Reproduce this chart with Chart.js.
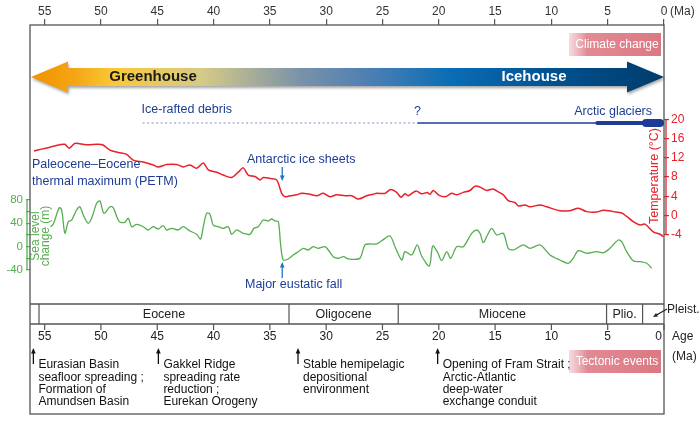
<!DOCTYPE html>
<html lang="en">
<head>
<meta charset="UTF-8">
<title>Arctic climate and tectonic events</title>
<style>
  html, body { margin: 0; padding: 0; background: #fff; }
  #wrap { width: 700px; height: 422px; }
</style>
</head>
<body>
<div id="wrap"><canvas id="chart"></canvas></div>
<script src="https://cdn.jsdelivr.net/npm/chart.js@4.4.1/dist/chart.umd.min.js"></script>
<script>
// temperature curve: age (Ma) and temperature (°C)
const tempAge = [55.95, 55.27, 54.53, 53.64, 53.20, 52.82, 52.31, 51.87, 51.13, 50.38, 49.85, 49.20, 48.46, 47.72, 47.13,
  46.24, 45.36, 44.91, 44.17, 43.28, 42.69, 42.10, 41.50, 40.91, 40.47, 39.72, 39.14, 38.39, 37.81, 37.36, 36.92, 36.32,
  35.88, 35.59, 34.99, 34.40, 33.95, 33.66, 33.21, 32.62, 32.18, 31.44, 30.84, 30.26, 29.66, 29.07, 28.33, 27.74, 27.15,
  26.40, 25.82, 25.52, 24.78, 24.27, 23.74, 23.36, 23.00, 22.71, 22.02, 21.52, 21.02, 20.78, 20.49, 20.04, 19.45, 18.85,
  18.41, 17.82, 17.23, 16.78, 16.34, 15.75, 15.21, 14.72, 14.27, 13.83, 13.23, 12.94, 12.34, 11.90, 11.01, 10.42, 9.24,
  8.35, 7.61, 6.86, 5.98, 5.39, 4.50, 3.76, 3.31, 2.73, 2.13, 1.69, 0.95, 0.36, 0.06]
const tempVal = [13.4, 13.8, 14.2, 14.7, 14.8, 14.0, 15.0, 14.9, 14.7, 14.8, 14.7, 13.6, 13.1, 12.7, 11.5,
  11.1, 10.5, 10.1, 10.6, 10.6, 10.1, 10.5, 9.8, 10.9, 9.5, 9.0, 8.4, 7.9, 9.0, 9.9, 8.4, 8.1,
  7.4, 7.9, 7.7, 7.4, 4.6, 3.9, 4.1, 4.3, 4.6, 4.4, 4.1, 4.6, 3.9, 4.3, 4.1, 4.1, 3.4,
  4.1, 4.4, 4.6, 4.6, 5.4, 4.8, 3.8, 4.5, 4.1, 5.1, 4.5, 4.8, 4.4, 5.2, 4.3, 3.9, 4.6,
  4.3, 4.8, 5.2, 6.1, 5.9, 5.2, 5.5, 4.9, 4.3, 3.1, 2.7, 2.0, 2.2, 1.8, 2.2, 1.8, 1.0,
  1.0, 1.5, 0.8, 0.7, 1.1, 0.8, 0.5, -0.2, -1.3, -2.0, -1.8, -3.4, -3.9, -4.4]

// sea level curve: age (Ma) and sea level change (m)
const seaAge = [54.47, 54.24, 53.70, 53.49, 53.20, 52.90, 52.60, 52.16, 51.87, 51.57, 51.13, 50.83, 50.38, 50.09, 49.73,
  49.20, 48.91, 48.37, 47.87, 47.57, 47.27, 46.83, 46.24, 45.80, 45.36, 44.91, 44.47, 44.17, 43.72, 43.13, 42.69, 42.10,
  41.50, 41.15, 40.91, 40.61, 40.32, 40.03, 39.58, 39.14, 38.69, 38.39, 37.95, 37.36, 36.77, 36.41, 36.03, 35.59, 35.14,
  34.84, 34.55, 34.25, 34.04, 33.81, 33.37, 32.92, 32.48, 32.03, 31.59, 31.15, 30.70, 30.11, 29.81, 29.37, 28.93, 28.48,
  28.04, 27.59, 27.00, 26.55, 26.11, 25.52, 25.07, 24.33, 23.89, 23.29, 23.00, 22.41, 21.91, 21.52, 20.84, 20.54, 20.13,
  19.74, 19.30, 18.94, 18.41, 17.82, 17.08, 16.63, 16.34, 16.05, 15.75, 15.30, 14.86, 14.27, 13.83, 13.38, 12.50, 11.90,
  11.01, 10.12, 9.24, 8.50, 8.06, 7.61, 6.86, 5.98, 5.39, 4.80, 4.06, 3.76, 3.31, 2.73, 2.13, 1.54, 1.09]
const seaVal = [34.2, 38.3, 66.8, 62.9, 22.9, 42.8, 45.7, 62.9, 68.5, 54.3, 40.1, 48.6, 74.3, 78.3, 57.2,
  68.5, 66.8, 42.8, 41.8, 48.6, 34.2, 38.3, 34.2, 28.6, 34.2, 30.3, 35.9, 28.6, 31.5, 28.6, 34.2, 26.9,
  21.2, 13.1, 34.2, 57.2, 55.5, 37.1, 34.2, 31.5, 34.2, 21.2, 28.6, 22.9, 21.2, 31.5, 34.2, 45.7, 44.0,
  47.4, 44.0, 42.8, 2.9, -22.9, -21.1, -14.3, -8.6, -2.8, -5.7, -0.1, -2.8, -0.1, -5.7, -17.2, -19.9, -17.2,
  -21.1, -21.7, -19.9, 2.9, 4.6, 4.6, 10.2, 18.3, -0.1, -22.9, -8.6, -14.3, 2.9, -16.0, -33.1, 1.1, -8.6,
  -24.1, -8.6, -19.9, -0.1, -0.1, 22.9, 28.6, 22.9, 6.8, 17.1, 31.5, 20.0, 22.9, -2.8, -5.7, 2.9, -2.8,
  2.9, -14.3, -22.9, -28.5, -19.9, -6.9, -11.4, -8.6, -10.3, -2.8, 11.4, 8.5, -8.6, -24.1, -25.8, -28.5, -37.1]

// tick labels
const ageTicks = [55, 50, 45, 40, 35, 30, 25, 20, 15, 10, 5, 0]
const tempTicks = [-4, 0, 4, 8, 12, 16, 20]
const seaTicks = [-40, -20, 0, 20, 40, 60, 80]

// epochs (boundaries in Ma, names of the cells between them)
const epochBounds = [55.5, 33.3, 23.6, 5.1, 1.9]
const epochNames = ['Eocene', 'Oligocene', 'Miocene', 'Plio.']

// ice record (Ma)
const iceDebrisFrom = 46.3
const iceQuery = 21.9
const glacierThick = 6.1
const glacierThicker = 1.95
const iceAntarctic = 33.9

// tectonic events
const eventAge = [56, 44.9, 32.5, 20.1]
const eventText = [
  ['Eurasian Basin', 'seafloor spreading ;', 'Formation of', 'Amundsen Basin'],
  ['Gakkel Ridge', 'spreading rate', 'reduction ;', 'Eurekan Orogeny'],
  ['Stable hemipelagic', 'depositional', 'environment'],
  ['Opening of Fram Strait ;', 'Arctic-Atlantic', 'deep-water', 'exchange conduit']
]

const F = "'Liberation Sans', Arial, sans-serif"
const RED = '#e8202a'
const GREEN = '#55ad4f'
const NAVY = '#1e3c96'
const BLUE = '#1a78c2'
Chart.defaults.font.family = F

function text(ctx, s, x, y, size, color, align, bold) {
    ctx.font = (bold ? 'bold ' : '') + size + 'px ' + F
    ctx.fillStyle = color
    ctx.textAlign = align || 'left'
    ctx.textBaseline = 'middle'
    ctx.fillText(s, x, y)
}

function arrow(ctx, x1, y1, x2, y2, color, head) {
    const ang = Math.atan2(y2 - y1, x2 - x1)
    ctx.strokeStyle = color
    ctx.fillStyle = color
    ctx.lineWidth = 1.3
    ctx.beginPath()
    ctx.moveTo(x1, y1)
    ctx.lineTo(x2 - Math.cos(ang) * head * 0.8, y2 - Math.sin(ang) * head * 0.8)
    ctx.stroke()
    ctx.beginPath()
    ctx.moveTo(x2, y2)
    ctx.lineTo(x2 - head * Math.cos(ang - 0.4), y2 - head * Math.sin(ang - 0.4))
    ctx.lineTo(x2 - head * Math.cos(ang + 0.4), y2 - head * Math.sin(ang + 0.4))
    ctx.closePath()
    ctx.fill()
}

function pinkBox(ctx, x0, y0, w, h, label) {
    const g = ctx.createLinearGradient(x0, 0, x0 + w, 0)
    g.addColorStop(0, 'rgba(226,140,150,0.3)')
    g.addColorStop(0.2, 'rgba(222,125,135,0.9)')
    g.addColorStop(1, 'rgb(220,120,130)')
    ctx.fillStyle = g
    ctx.fillRect(x0, y0, w, h)
    text(ctx, label, x0 + w / 2 + 2, y0 + h / 2 + 0.5, 12, '#fff', 'center')
}

const decorations = {
    id: 'decorations',
    afterDraw(chart) {
        const ctx = chart.ctx
        const a = chart.chartArea
        const X = v => chart.scales.x.getPixelForValue(v)
        const yT = v => chart.scales.yT.getPixelForValue(v)
        const yS = v => chart.scales.yS.getPixelForValue(v)
        const L = a.left, R = a.right
        const rowTop = a.bottom, rowBot = a.bottom + 20, boxBot = a.bottom + 110
        ctx.save()

        // frame
        ctx.strokeStyle = '#555'
        ctx.lineWidth = 1.3
        ctx.strokeRect(L, a.top, R - L, boxBot - a.top)
        ctx.beginPath()
        ctx.moveTo(L, rowTop); ctx.lineTo(R, rowTop)
        ctx.moveTo(L, rowBot); ctx.lineTo(R, rowBot)
        ctx.stroke()
        text(ctx, '(Ma)', R + 6, 12, 12, '#333', 'left')

        // greenhouse / icehouse arrow
        const ay = 77, sh = 9, hh = 15.5, hl = 37
        const g = ctx.createLinearGradient(L, 0, R, 0)
        g.addColorStop(0, 'rgb(242,145,0)')
        g.addColorStop(0.07, 'rgb(244,165,20)')
        g.addColorStop(0.13, 'rgb(249,200,55)')
        g.addColorStop(0.27, 'rgb(214,202,135)')
        g.addColorStop(0.43, 'rgb(120,145,170)')
        g.addColorStop(0.55, 'rgb(70,125,180)')
        g.addColorStop(0.66, 'rgb(10,110,182)')
        g.addColorStop(0.82, 'rgb(0,82,145)')
        g.addColorStop(1, 'rgb(0,60,108)')
        ctx.save()
        ctx.shadowColor = 'rgba(0,0,0,0.35)'
        ctx.shadowBlur = 3
        ctx.shadowOffsetX = 1
        ctx.shadowOffsetY = 2
        ctx.beginPath()
        ctx.moveTo(L + 1, ay)
        ctx.lineTo(L + 1 + hl, ay - hh)
        ctx.lineTo(L + 1 + hl, ay - sh)
        ctx.lineTo(R - hl, ay - sh)
        ctx.lineTo(R - hl, ay - hh)
        ctx.lineTo(R, ay)
        ctx.lineTo(R - hl, ay + hh)
        ctx.lineTo(R - hl, ay + sh)
        ctx.lineTo(L + 1 + hl, ay + sh)
        ctx.lineTo(L + 1 + hl, ay + hh)
        ctx.closePath()
        ctx.fillStyle = g
        ctx.fill()
        ctx.restore()
        text(ctx, 'Greenhouse', 153, ay, 15, '#1a1a1a', 'center', true)
        text(ctx, 'Icehouse', 534, ay, 15, '#fff', 'center', true)

        pinkBox(ctx, R - 95, 33, 92, 23, 'Climate change')

        // ice record
        const iy = 123
        ctx.strokeStyle = '#8090c8'
        ctx.lineWidth = 1.2
        ctx.setLineDash([2, 2.5])
        ctx.beginPath()
        ctx.moveTo(X(iceDebrisFrom), iy); ctx.lineTo(X(iceQuery), iy)
        ctx.stroke()
        ctx.setLineDash([])
        ctx.strokeStyle = NAVY
        ctx.lineWidth = 1.4
        ctx.beginPath()
        ctx.moveTo(X(iceQuery), iy); ctx.lineTo(R, iy)
        ctx.stroke()
        ctx.lineCap = 'round'
        ctx.lineWidth = 4
        ctx.beginPath()
        ctx.moveTo(X(glacierThick) + 2, iy); ctx.lineTo(R - 2, iy)
        ctx.stroke()
        ctx.lineWidth = 8
        ctx.beginPath()
        ctx.moveTo(X(glacierThicker) + 4, iy); ctx.lineTo(R - 4, iy)
        ctx.stroke()
        ctx.lineCap = 'butt'
        text(ctx, 'Ice-rafted debris', X(iceDebrisFrom) - 1, 110, 12.5, NAVY, 'left')
        text(ctx, '?', X(iceQuery), 112, 12.5, NAVY, 'center')
        text(ctx, 'Arctic glaciers', R - 12, 112, 12.5, NAVY, 'right')

        // annotations
        text(ctx, 'Paleocene\u2013Eocene', L + 2, 165, 12.5, NAVY, 'left')
        text(ctx, 'thermal maximum (PETM)', L + 2, 182, 12.5, NAVY, 'left')
        text(ctx, 'Antarctic ice sheets', 247, 160, 12.5, NAVY, 'left')
        arrow(ctx, X(iceAntarctic), 167, X(iceAntarctic), 181, BLUE, 6)
        text(ctx, 'Major eustatic fall', 245, 285, 12.5, NAVY, 'left')
        arrow(ctx, X(iceAntarctic), 278, X(iceAntarctic), 262, BLUE, 6)

        // axis lines and titles
        ctx.strokeStyle = RED
        ctx.lineWidth = 1.3
        ctx.beginPath()
        ctx.moveTo(R + 2, yT(20)); ctx.lineTo(R + 2, yT(-4))
        ctx.stroke()
        ctx.save()
        ctx.translate(655, 176)
        ctx.rotate(-Math.PI / 2)
        text(ctx, 'Temperature (\u00b0C)', 0, 0, 12.5, RED, 'center')
        ctx.restore()

        ctx.strokeStyle = GREEN
        ctx.beginPath()
        ctx.moveTo(L - 3, yS(80)); ctx.lineTo(L - 3, yS(-40))
        ctx.stroke()
        ctx.save()
        ctx.translate(36, 236)
        ctx.rotate(-Math.PI / 2)
        text(ctx, 'Sea level', 0, 0, 12, GREEN, 'center')
        text(ctx, 'change (m)', 0, 9.5, 12, GREEN, 'center')
        ctx.restore()

        // epoch row
        ctx.strokeStyle = '#555'
        ctx.lineWidth = 1.2
        ctx.beginPath()
        epochBounds.forEach(b => { ctx.moveTo(X(b), rowTop); ctx.lineTo(X(b), rowBot) })
        ctx.stroke()
        epochNames.forEach((n, i) => {
            text(ctx, n, (X(epochBounds[i]) + X(epochBounds[i + 1])) / 2, rowTop + 10.5, 12.5, '#222', 'center')
        })
        text(ctx, 'Pleist.', R + 3, rowTop + 6, 12, '#222', 'left')
        arrow(ctx, R + 3, rowTop + 5, R - 11, rowTop + 13, '#222', 5)

        // bottom age axis
        ctx.strokeStyle = '#555'
        ctx.lineWidth = 1.2
        ctx.beginPath()
        ageTicks.forEach(v => { ctx.moveTo(X(v), rowBot); ctx.lineTo(X(v), rowBot + 6) })
        ctx.stroke()
        ageTicks.forEach(v => {
            if (v === 0) text(ctx, '0', X(v) - 2, rowBot + 13, 12, '#222', 'right')
            else text(ctx, String(v), X(v), rowBot + 13, 12, '#222', 'center')
        })
        text(ctx, 'Age', R + 8, rowBot + 13, 12, '#222', 'left')
        text(ctx, '(Ma)', R + 8, rowBot + 33, 12, '#222', 'left')

        // tectonic events
        eventAge.forEach((age, i) => {
            const ex = X(age)
            arrow(ctx, ex, 364, ex, 348, '#111', 6)
            eventText[i].forEach((s, j) => text(ctx, s, ex + 5, 365 + j * 12.3, 12, '#111', 'left'))
        })
        pinkBox(ctx, R - 95, 350, 92, 23, 'Tectonic events')

        ctx.restore()
    }
}

new Chart(document.getElementById('chart'), {
    type: 'line',
    data: {
        datasets: [
            {
                label: 'Temperature',
                data: tempAge.map((v, i) => ({ x: v, y: tempVal[i] })),
                yAxisID: 'yT',
                borderColor: RED,
                borderWidth: 1.5,
                pointRadius: 0,
                tension: 0.3
            },
            {
                label: 'Sea level change',
                data: seaAge.map((v, i) => ({ x: v, y: seaVal[i] })),
                yAxisID: 'yS',
                borderColor: GREEN,
                borderWidth: 1.3,
                pointRadius: 0,
                tension: 0.3
            }
        ]
    },
    options: {
        responsive: true,
        maintainAspectRatio: false,
        animation: false,
        layout: { padding: { left: 0, right: 0, top: 0, bottom: 118 } },
        plugins: { legend: { display: false }, tooltip: { enabled: false } },
        scales: {
            x: {
                type: 'linear', position: 'top', reverse: true, min: 0, max: 56.3,
                afterBuildTicks: s => { s.ticks = ageTicks.map(v => ({ value: v })) },
                afterFit: s => { s.height = 25 },
                ticks: { autoSkip: false, maxRotation: 0, padding: 0, color: '#333', font: { size: 12 } },
                grid: { drawOnChartArea: false, tickLength: 6, color: '#555', lineWidth: 1.2 },
                border: { display: false }
            },
            yT: {
                position: 'right', min: -18.41, max: 39.61,
                afterBuildTicks: s => { s.ticks = tempTicks.map(v => ({ value: v })) },
                afterFit: s => { s.width = 36 },
                ticks: { color: RED, padding: 2, font: { size: 12 } },
                grid: { drawOnChartArea: false, tickLength: 5, color: RED, lineWidth: 1.2 },
                border: { display: false }
            },
            yS: {
                position: 'left', min: -98.3, max: 380,
                afterBuildTicks: s => { s.ticks = seaTicks.map(v => ({ value: v })) },
                afterFit: s => { s.width = 30 },
                ticks: { color: GREEN, padding: 3, font: { size: 11.5 }, callback: v => (v % 40 === 0 ? v : '') },
                grid: { drawOnChartArea: false, tickLength: 4, color: GREEN, lineWidth: 1.2 },
                border: { display: false }
            }
        }
    },
    plugins: [decorations]
})
</script>
</body>
</html>
